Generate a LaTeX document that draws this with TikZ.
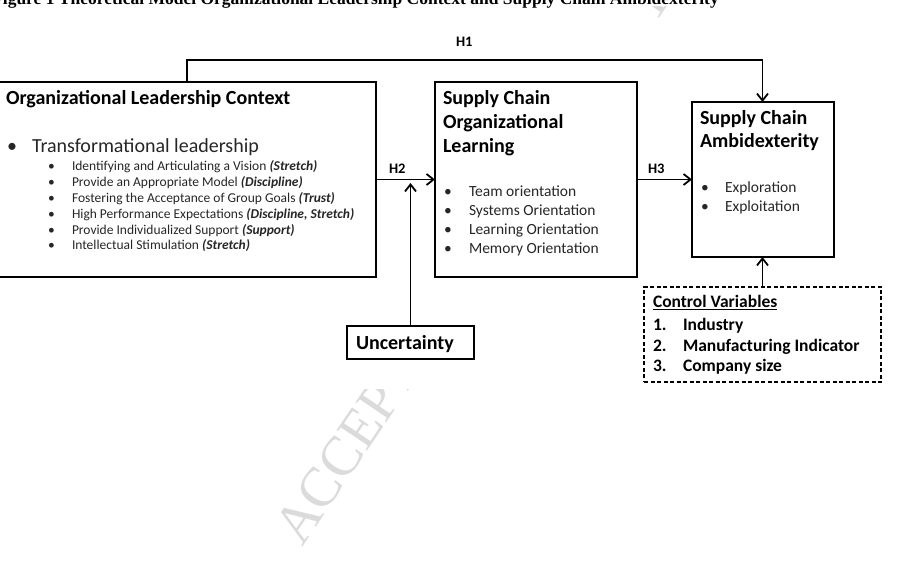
\documentclass[tikz,border=0pt]{standalone}
\usepackage{fontspec}
\setmainfont{Carlito}
\newfontfamily\capfont{Liberation Serif}
\usetikzlibrary{arrows.meta}
\begin{document}
\begin{tikzpicture}[x=1pt,y=-1pt,
  box/.style={draw, line width=2.2pt, inner sep=0pt, outer sep=0pt, anchor=north west},
  dbox/.style={draw, line width=1.2pt, dash pattern=on 4pt off 2.5pt, inner sep=0pt, outer sep=0pt, anchor=north west},
  conn/.style={line width=1.8pt, -{Straight Barb[length=7pt,width=11pt]}},
  txt/.style={anchor=base west, inner sep=0pt, outer sep=0pt},
  ttl/.style={txt, font=\fontsize{20}{24}\selectfont\bfseries},
  big/.style={txt, font=\fontsize{20}{24}\selectfont, text=black!85},
  sub/.style={txt, font=\fontsize{13.5}{16}\selectfont, text=black!85},
  itm/.style={txt, font=\fontsize{15.5}{18}\selectfont, text=black!85},
  ctl/.style={txt, font=\fontsize{17.5}{20}\selectfont\bfseries},
  lab/.style={txt, font=\fontsize{14.5}{17}\selectfont\bfseries},
  wmark/.style={anchor=base west, inner sep=0pt, rotate=56, text=black!14, font=\capfont\fontsize{56}{60}\selectfont}]
\useasboundingbox (0,0) rectangle (900,585);
% watermark, visible only where the figure does not cover it
\begin{scope}
  \clip (-2,389) rectangle (902,587) (646,6) rectangle (690,29);
  \node[wmark] (wm) at (302,548) {ACCEPTED MANUSCRIPT};
\end{scope}
% caption (cut at top of page)
\node[anchor=base east, inner sep=0pt, font=\capfont\bfseries\fontsize{17.5}{20}\selectfont] (cap) at (719,5)
  {Figure 1 Theoretical Model Organizational Leadership Context and Supply Chain Ambidexterity};
% boxes
\node[box, minimum width=386pt, minimum height=195pt] (olc) at (-10,82) {};
\node[box, minimum width=202pt, minimum height=195pt] (scol) at (435,82) {};
\node[box, minimum width=142pt, minimum height=155pt] (sca) at (692,102) {};
\node[box, minimum width=127pt, minimum height=33pt] (unc) at (347,326) {};
\node[dbox, minimum width=237pt, minimum height=95pt] (ctrl) at (644,287) {};
% left box text
\node[ttl] (olcT) at (6,105) {Organizational Leadership Context};
\node[big] (olcB) at (7,153) {•};
\node[big] (olcS) at (32,153) {Transformational leadership};
\foreach \t [count=\i] in {
  {Identifying and Articulating a Vision \textbf{\textit{(Stretch)}}},
  {Provide an Appropriate Model \textbf{\textit{(Discipline)}}},
  {Fostering the Acceptance of Group Goals \textbf{\textit{(Trust)}}},
  {High Performance Expectations \textbf{\textit{(Discipline, Stretch)}}},
  {Provide Individualized Support \textbf{\textit{(Support)}}},
  {Intellectual Stimulation \textbf{\textit{(Stretch)}}}}{
  \node[sub] (sb\i) at (48,{171+15.8*(\i-1)}) {•};
  \node[sub] (st\i) at (72,{171+15.8*(\i-1)}) {\t};
}
% middle box text
\node[ttl] (scolT1) at (443,105) {Supply Chain};
\node[ttl] (scolT2) at (443,129) {Organizational};
\node[ttl] (scolT3) at (443,153) {Learning};
\foreach \t [count=\i] in {Team orientation, Systems Orientation, Learning Orientation, Memory Orientation}{
  \node[itm] (mb\i) at (444,{197+19*(\i-1)}) {•};
  \node[itm] (mt\i) at (469,{197+19*(\i-1)}) {\t};
}
% right box text
\node[ttl] (scaT1) at (700,125) {Supply Chain};
\node[ttl] (scaT2) at (700,148) {Ambidexterity};
\node[itm] (rb1) at (701,193) {•};
\node[itm] (rt1) at (725,193) {Exploration};
\node[itm] (rb2) at (701,212) {•};
\node[itm] (rt2) at (725,212) {Exploitation};
% uncertainty
\node[ttl] (uncT) at (356,350) {Uncertainty};
% control variables
\node[ctl] (ctlT) at (653,308) {\underline{Control Variables}};
\node[ctl] (cn1) at (653,331) {1.};
\node[ctl] (cv1) at (683,331) {Industry};
\node[ctl] (cn2) at (653,352) {2.};
\node[ctl] (cv2) at (683,352) {Manufacturing Indicator};
\node[ctl] (cn3) at (653,372) {3.};
\node[ctl] (cv3) at (683,372) {Company size};
% connectors
\coordinate (h1a) at (187,60);
\coordinate (h1b) at (762.5,60);
\draw[conn] (h1a |- olc.north) -- (h1a) -- (h1b) -- (h1b |- sca.north);
\draw[conn] (olc.east) -- (scol.west);
\draw[conn] (scol.east) -- (sca.west);
\coordinate (uncTip) at (410.5,183);
\draw[conn] (unc.north) -- (uncTip);
\draw[conn] (ctrl.north) -- (ctrl.north |- sca.south);
% labels
\node[lab] (h1) at (456,47) {H1};
\node[lab] (h2) at (389,174) {H2};
\node[lab] (h3) at (648,174) {H3};
\end{tikzpicture}
\end{document}
